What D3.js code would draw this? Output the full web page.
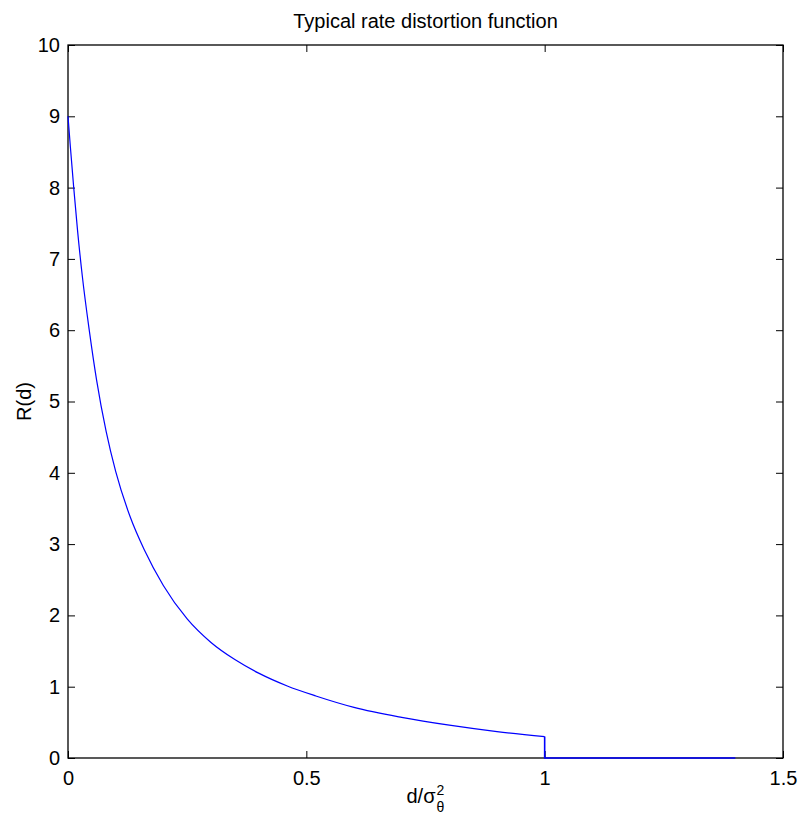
<!DOCTYPE html>
<html>
<head>
<meta charset="utf-8">
<script src="https://cdn.jsdelivr.net/npm/d3@7"></script>
<style>
  html, body { margin: 0; padding: 0; background: #fff; }
  svg { display: block; }
  text { font-family: "Liberation Sans", Arial, Helvetica, sans-serif; fill: #000; }
</style>
</head>
<body>
<svg id="chart" width="804" height="818"></svg>
<script>
// ---- data ----
const curveD = [0, 0.005, 0.012, 0.02, 0.03, 0.045, 0.06, 0.08, 0.10, 0.13, 0.16, 0.20, 0.25, 0.30, 0.35, 0.40, 0.46, 0.52, 0.60, 0.70, 0.80, 0.90, 1.0];
const curveR = [9.0, 8.57, 8.0, 7.40, 6.76, 5.98, 5.30, 4.58, 4.02, 3.39, 2.92, 2.42, 1.95, 1.62, 1.38, 1.19, 1.01, 0.87, 0.71, 0.57, 0.46, 0.37, 0.30];
const tailD = [1.0, 1.0, 1.4];
const tailR = [0.30, 0, 0];
const xTicks = [0, 0.5, 1, 1.5];
const xTickLabels = ["0", "0.5", "1", "1.5"];
const yTicks = [0, 1, 2, 3, 4, 5, 6, 7, 8, 9, 10];
const yTickLabels = ["0", "1", "2", "3", "4", "5", "6", "7", "8", "9", "10"];
const titleText = "Typical rate distortion function";
const yLabelText = "R(d)";

(function () {
  // ---- layout ----
  const mLeft = 68, mRight = 783, mTop = 45, mBottom = 758;
  const svg = d3.select("#chart");
  svg.append("rect").attr("width", 804).attr("height", 818).attr("fill", "#fff");

  const x = d3.scaleLinear().domain([0, 1.5]).range([mLeft, mRight]);
  const y = d3.scaleLinear().domain([0, 10]).range([mBottom, mTop]);

  const fontSize = 20;

  // axes (inward ticks on all four sides)
  const gB = svg.append("g").attr("transform", `translate(0,${mBottom})`)
    .call(d3.axisBottom(x).tickValues(xTicks).tickFormat((d, i) => xTickLabels[i]).tickSizeInner(-7).tickSizeOuter(0).tickPadding(13));
  const gT = svg.append("g").attr("transform", `translate(0,${mTop})`)
    .call(d3.axisTop(x).tickValues(xTicks).tickFormat("").tickSizeInner(-7).tickSizeOuter(0));
  const gL = svg.append("g").attr("transform", `translate(${mLeft},0)`)
    .call(d3.axisLeft(y).tickValues(yTicks).tickFormat((d, i) => yTickLabels[i]).tickSizeInner(-7).tickSizeOuter(0).tickPadding(8));
  const gR = svg.append("g").attr("transform", `translate(${mRight},0)`)
    .call(d3.axisRight(y).tickValues(yTicks).tickFormat("").tickSizeInner(-7).tickSizeOuter(0));

  [gB, gT, gL, gR].forEach(g => {
    g.select(".domain").remove();
    g.selectAll(".tick line").attr("stroke", "#000").attr("stroke-width", 1);
    g.selectAll(".tick text").attr("font-size", fontSize)
      .attr("font-family", "'Liberation Sans', Arial, sans-serif").attr("fill", "#000");
  });

  // box
  svg.append("rect")
    .attr("x", mLeft).attr("y", mTop)
    .attr("width", mRight - mLeft).attr("height", mBottom - mTop)
    .attr("fill", "none").attr("stroke", "#000").attr("stroke-width", 1.3);

  // curve
  const smoothLine = d3.line()
    .x((d, i) => x(curveD[i])).y((d, i) => y(curveR[i]))
    .curve(d3.curveMonotoneX);
  svg.append("path").datum(curveD)
    .attr("d", smoothLine)
    .attr("fill", "none").attr("stroke", "#0000ff").attr("stroke-width", 1.2);

  const tailLine = d3.line()
    .x((d, i) => x(tailD[i])).y((d, i) => y(tailR[i]));
  svg.append("path").datum(tailD)
    .attr("d", tailLine)
    .attr("fill", "none").attr("stroke", "#0000ff").attr("stroke-width", 1.6);

  // title
  svg.append("text")
    .attr("x", (mLeft + mRight) / 2).attr("y", 28)
    .attr("text-anchor", "middle").attr("font-size", fontSize)
    .text(titleText);

  // x label: d/σ with superscript 2 and subscript θ
  const xl = svg.append("g").attr("transform", `translate(${(mLeft + mRight) / 2},803)`);
  xl.append("text").attr("x", 0).attr("y", 0).attr("font-size", fontSize).attr("text-anchor", "end").text("d/σ");
  xl.append("text").attr("x", 1).attr("y", -8).attr("font-size", 14).text("2");
  xl.append("text").attr("x", 1).attr("y", 9).attr("font-size", 14).text("θ");
  const bb = xl.node().getBBox();
  xl.attr("transform", `translate(${(mLeft + mRight) / 2 - (bb.x + bb.width / 2)},803)`);

  // y label
  svg.append("text")
    .attr("transform", `translate(31,${(mTop + mBottom) / 2}) rotate(-90)`)
    .attr("text-anchor", "middle").attr("font-size", fontSize)
    .text(yLabelText);
})();
</script>
</body>
</html>
